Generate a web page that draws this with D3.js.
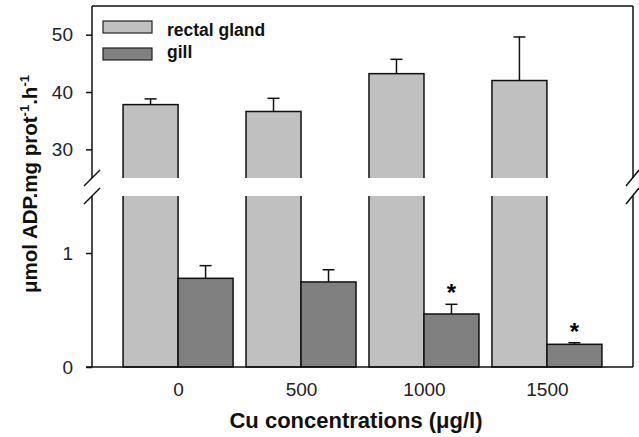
<!DOCTYPE html>
<html>
<head>
<meta charset="utf-8">
<script src="https://cdn.jsdelivr.net/npm/d3@7"></script>
<style>
  body { margin: 0; background: #fff; }
  svg { font-family: "Liberation Sans", Arial, sans-serif; }
</style>
</head>
<body>
<div id="chart"></div>
<script>

// data
let concentrations = ['0', '500', '1000', '1500'];
let rectal = [37.8, 36.6, 43.2, 42.0];
let rectalErr = [1.0, 2.3, 2.5, 7.6];
let gill = [0.778, 0.746, 0.465, 0.199];
let gillErr = [0.111, 0.107, 0.085, 0.014];
let gillStar = [false, false, true, true];
let seriesNames = ['rectal gland', 'gill'];
let colors = ['#c0c0c0', '#808080'];
let upperTicks = [30, 40, 50];
let lowerTicks = [0, 1];

let W = 639, H = 437;
let pleft = 92, pright = 633, ptop = 6;
let breakTop = 178, breakBot = 196, pbottom = 367;
let fontFam = '"Liberation Sans", Arial, sans-serif';

let svg = d3.select('#chart').append('svg')
    .attr('width', W).attr('height', H);

let x = d3.scalePoint().domain(concentrations).range([pleft, pright]).padding(0.7);
let bw = 55;

let yTop = d3.scaleLinear().domain([25, 55]).range([breakTop, ptop]);
let yBot = d3.scaleLinear().domain([0, 1.5]).range([pbottom, breakBot]);

// bars
let rows = concentrations.map((c, i) => ({c: c, r: rectal[i], re: rectalErr[i], g: gill[i], ge: gillErr[i], star: gillStar[i]}));

let bars = svg.append('g');

bars.selectAll('.rg').data(rows).enter().append('rect')
    .attr('x', d => x(d.c) - bw)
    .attr('y', d => yTop(d.r))
    .attr('width', bw)
    .attr('height', d => pbottom - yTop(d.r))
    .attr('fill', colors[0])
    .attr('stroke', '#111').attr('stroke-width', 1.5);

// error bars, rectal gland (upward only)
let eb = svg.append('g').attr('stroke', '#111').attr('stroke-width', 1.5);
rows.forEach(function(d) {
  let cx = x(d.c) - bw / 2;
  eb.append('line').attr('x1', cx).attr('x2', cx).attr('y1', yTop(d.r)).attr('y2', yTop(d.r + d.re));
  eb.append('line').attr('x1', cx - 6).attr('x2', cx + 6).attr('y1', yTop(d.r + d.re)).attr('y2', yTop(d.r + d.re));
});

bars.selectAll('.gl').data(rows).enter().append('rect')
    .attr('x', d => x(d.c))
    .attr('y', d => yBot(d.g))
    .attr('width', bw)
    .attr('height', d => pbottom - yBot(d.g))
    .attr('fill', colors[1])
    .attr('stroke', '#111').attr('stroke-width', 1.5);

rows.forEach(function(d) {
  let cx = x(d.c) + bw / 2;
  eb.append('line').attr('x1', cx).attr('x2', cx).attr('y1', yBot(d.g)).attr('y2', yBot(d.g + d.ge));
  eb.append('line').attr('x1', cx - 6).attr('x2', cx + 6).attr('y1', yBot(d.g + d.ge)).attr('y2', yBot(d.g + d.ge));
  if (d.star) {
    svg.append('text')
      .attr('x', cx).attr('y', yBot(d.g + d.ge) - 3)
      .attr('text-anchor', 'middle')
      .style('font-size', '24px').style('font-weight', 'bold')
      .text('*');
  }
});

// white gap for the axis break
svg.append('rect')
    .attr('x', pleft + 1).attr('y', breakTop)
    .attr('width', pright - pleft - 2).attr('height', breakBot - breakTop)
    .attr('fill', '#fff');

// axes
let axTop = d3.axisLeft(yTop).tickValues(upperTicks).tickSize(6).tickPadding(13).tickFormat(d3.format('d'));
let axBot = d3.axisLeft(yBot).tickValues(lowerTicks).tickSize(6).tickPadding(13).tickFormat(d3.format('d'));

let gTop = svg.append('g').attr('transform', 'translate(' + pleft + ',0)').call(axTop);
let gBot = svg.append('g').attr('transform', 'translate(' + pleft + ',0)').call(axBot);
[gTop, gBot].forEach(g => {
  g.select('.domain').remove();
  g.selectAll('.tick line').attr('stroke', '#111').attr('stroke-width', 1.5);
});

let xAxis = d3.axisBottom(x).tickSize(0).tickPadding(16);
let gx = svg.append('g').attr('transform', 'translate(0,' + pbottom + ')').call(xAxis);
gx.select('.domain').remove();

svg.selectAll('.tick text')
    .attr('font-family', fontFam)
    .attr('font-size', 19)
    .attr('fill', '#222');

// frame lines
let frame = svg.append('g').attr('stroke', '#111').attr('stroke-width', 1.5).attr('fill', 'none');
frame.append('line').attr('x1', pleft - 6).attr('x2', pright).attr('y1', pbottom).attr('y2', pbottom);
frame.append('line').attr('x1', pleft).attr('x2', pright).attr('y1', ptop).attr('y2', ptop);
[pleft, pright].forEach(function(ax) {
  frame.append('line').attr('x1', ax).attr('x2', ax).attr('y1', ptop).attr('y2', breakTop);
  frame.append('line').attr('x1', ax).attr('x2', ax).attr('y1', breakBot).attr('y2', pbottom);
  // break slashes
  let x0 = ax - 8, x1 = ax + 8;
  if (ax === pright) { x0 = ax - 7; x1 = ax + 6; }
  frame.append('line').attr('x1', x0).attr('x2', x1).attr('y1', breakTop + 8).attr('y2', breakTop - 8);
  frame.append('line').attr('x1', x0).attr('x2', x1).attr('y1', breakBot + 8).attr('y2', breakBot - 8);
});

// legend
let legend = svg.append('g');
seriesNames.forEach(function(name, i) {
  legend.append('rect')
    .attr('x', 103).attr('y', 21 + i * 27)
    .attr('width', 49).attr('height', 12)
    .attr('fill', colors[i])
    .attr('stroke', '#222').attr('stroke-width', 1.2);
  legend.append('text')
    .attr('x', 167).attr('y', 36 + i * 22)
    .style('font-size', '17.5px').style('font-weight', 'bold')
    .attr('fill', '#111')
    .text(name);
});

// axis titles
svg.append('text')
    .attr('x', 356).attr('y', 428)
    .attr('text-anchor', 'middle')
    .style('font-size', '22px').style('font-weight', 'bold')
    .attr('fill', '#111')
    .text('Cu concentrations (μg/l)');

let ylab = svg.append('text')
    .attr('transform', 'translate(37,184) rotate(-90)')
    .attr('text-anchor', 'middle')
    .style('font-size', '20.5px').style('font-weight', 'bold')
    .attr('fill', '#111');
ylab.append('tspan').text('μmol ADP.mg prot');
ylab.append('tspan').attr('dy', -8).style('font-size', '13px').text('-1');
ylab.append('tspan').attr('dy', 8).text('.h');
ylab.append('tspan').attr('dy', -8).style('font-size', '13px').text('-1');

</script>
</body>
</html>
